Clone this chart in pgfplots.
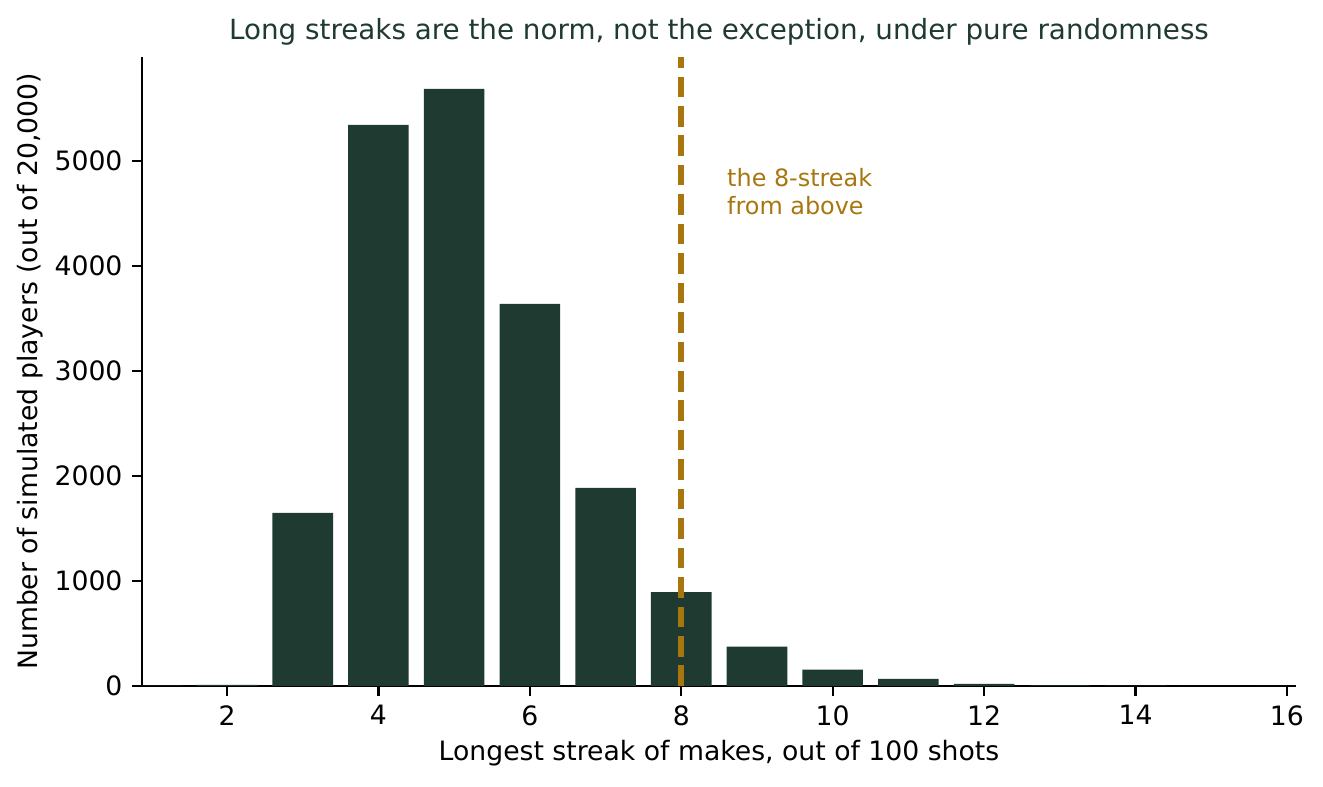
\documentclass[border=0pt]{standalone}
\usepackage{pgfplots}
\pgfplotsset{compat=1.18}
\usepackage{fontspec}
\setmainfont{DejaVu Sans}
\definecolor{barc}{HTML}{1F3A30}
\definecolor{gold}{HTML}{A8760F}
\definecolor{titlec}{HTML}{1F3A30}
\begin{document}
\begin{tikzpicture}
\path[use as bounding box] (0,0) rectangle (476.28pt,283.32pt);
\begin{axis}[
  at={(51.12pt,36.36pt)}, anchor=south west,
  scale only axis, width=415.44pt, height=226.44pt,
  xmin=0.877, xmax=16.12, ymin=0, ymax=5990,
  axis lines*=left, axis line style={line width=0.8pt, -},
  tick align=outside, major tick length=3.5pt,
  tick style={line width=0.8pt, black},
  xtick={2,4,...,16}, ytick={0,1000,...,5000},
  /pgf/number format/1000 sep={},
  /pgf/number format/assume math mode=true,
  tick label style={font=\fontsize{9.6}{11.5}\selectfont},
  xlabel={Longest streak of makes, out of 100 shots},
  ylabel={Number of simulated players (out of 20,000)},
  label style={font=\fontsize{9.6}{11.5}\selectfont},
  xlabel style={at={(axis description cs:0.5,-0.1065)}, anchor=center},
  ylabel style={at={(axis description cs:-0.097,0.5)}, anchor=center},
  every axis title shift=0pt,
  title={Long streaks are the norm, not the exception, under pure randomness},
  title style={font=\fontsize{10}{12}\selectfont, text=titlec, at={(axis description cs:0.5,1.0397)}, anchor=center, yshift=0pt},
  clip=true,
]
\addplot[ybar, bar width=0.8, fill=barc, draw=none]
  coordinates {(1,3) (2,10) (3,1648) (4,5343) (5,5686) (6,3638) (7,1886) (8,895) (9,375) (10,155) (11,68) (12,20) (13,7) (14,3) (15,1) (16,1)};
\addplot[gold, line width=2pt, dash pattern=on 7.4pt off 3.2pt, forget plot]
  coordinates {(8,0) (8,5990)};
\node[anchor=north west, align=left, text=gold, font=\fontsize{8.6}{10}\selectfont, inner sep=0pt]
  at (axis cs:8.6,4930) {the 8-streak\\from above};
\end{axis}
\end{tikzpicture}
\end{document}
